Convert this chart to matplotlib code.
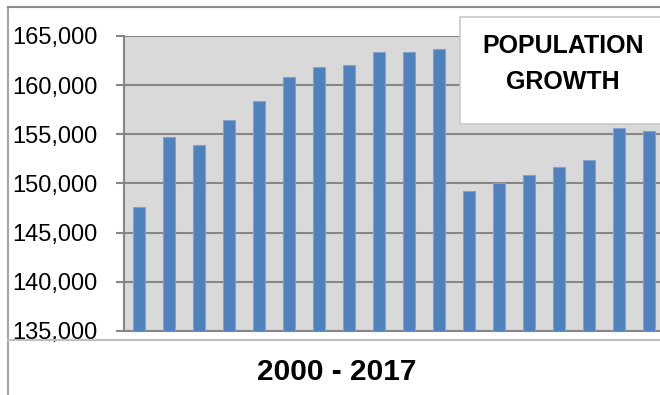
import matplotlib
matplotlib.use("Agg")
import matplotlib.pyplot as plt
from matplotlib.lines import Line2D
from matplotlib.patches import Rectangle
from matplotlib.ticker import FuncFormatter

# Population per year, 2000-2017
years = list(range(2000, 2018))
population = [147600, 154700, 153900, 156500, 158400, 160800, 161800, 162100,
              163400, 163400, 163700, 149200, 150000, 150900, 151700, 152400,
              155600, 155300]
y_ticks = [135000, 140000, 145000, 150000, 155000, 160000, 165000]
title_text = "POPULATION\nGROWTH"
x_label = "2000 - 2017"

W, H = 660, 395
fig = plt.figure(figsize=(W / 100, H / 100), dpi=100)
fig.patch.set_facecolor("white")

def fx(px):
    return px / W

def fy(py):
    return 1 - py / H

# Plot area (extends past the right edge of the canvas)
left_px, right_px, top_px, bottom_px = 124.3, 664.3, 36, 331
ax = fig.add_axes([fx(left_px), fy(bottom_px),
                   fx(right_px) - fx(left_px), fy(top_px) - fy(bottom_px)])
ax.set_facecolor("#d9d9d9")

x = list(range(len(years)))
ax.bar(x, population, width=0.4, color="#4f81bd", edgecolor="#7ea3cf",
       linewidth=0.8, zorder=3)

ax.set_xlim(-0.5, len(years) - 0.5)
ax.set_ylim(y_ticks[0], y_ticks[-1])
ax.set_yticks(y_ticks)
ax.yaxis.set_major_formatter(FuncFormatter(lambda v, p: f"{int(v):,}"))
ax.set_xticks([])

ax.yaxis.grid(True, color="#868686", linewidth=1.5, zorder=1)
ax.set_axisbelow(True)

for side in ("top", "right"):
    ax.spines[side].set_visible(False)
for side in ("left", "bottom"):
    ax.spines[side].set_color("#868686")
    ax.spines[side].set_linewidth(1.5)

ax.tick_params(axis="y", length=6, width=1.5, color="#868686", pad=13,
               labelsize=17, labelcolor="black")
for lbl in ax.get_yticklabels():
    lbl.set_fontfamily("Liberation Sans")

# Chart frame lines
frame = "#a6a6a6"
fig.add_artist(Line2D([fx(8), fx(8)], [fy(7), fy(395)], color=frame, lw=1.5,
                      transform=fig.transFigure))
fig.add_artist(Line2D([fx(8), fx(660)], [fy(7), fy(7)], color="#8c8c8c", lw=1.5,
                      transform=fig.transFigure))
fig.add_artist(Line2D([fx(8), fx(660)], [fy(340), fy(340)], color="#bfbfbf",
                      lw=1.5, transform=fig.transFigure, zorder=10))

# Title box
fig.add_artist(Rectangle((fx(460), fy(124)), fx(666) - fx(460), fy(17) - fy(124),
                         transform=fig.transFigure, facecolor="white",
                         edgecolor="#c8c8c8", lw=1.2, zorder=5))
fig.text(fx(563), fy(64), title_text, ha="center", va="center",
         fontsize=18, fontweight="bold", family="Liberation Sans",
         linespacing=1.6, zorder=6)

fig.text(fx(336.5), fy(372.5), x_label, ha="center", va="center",
         fontsize=21.5, fontweight="bold", family="Liberation Sans")

fig.savefig("out.png", dpi=100)
